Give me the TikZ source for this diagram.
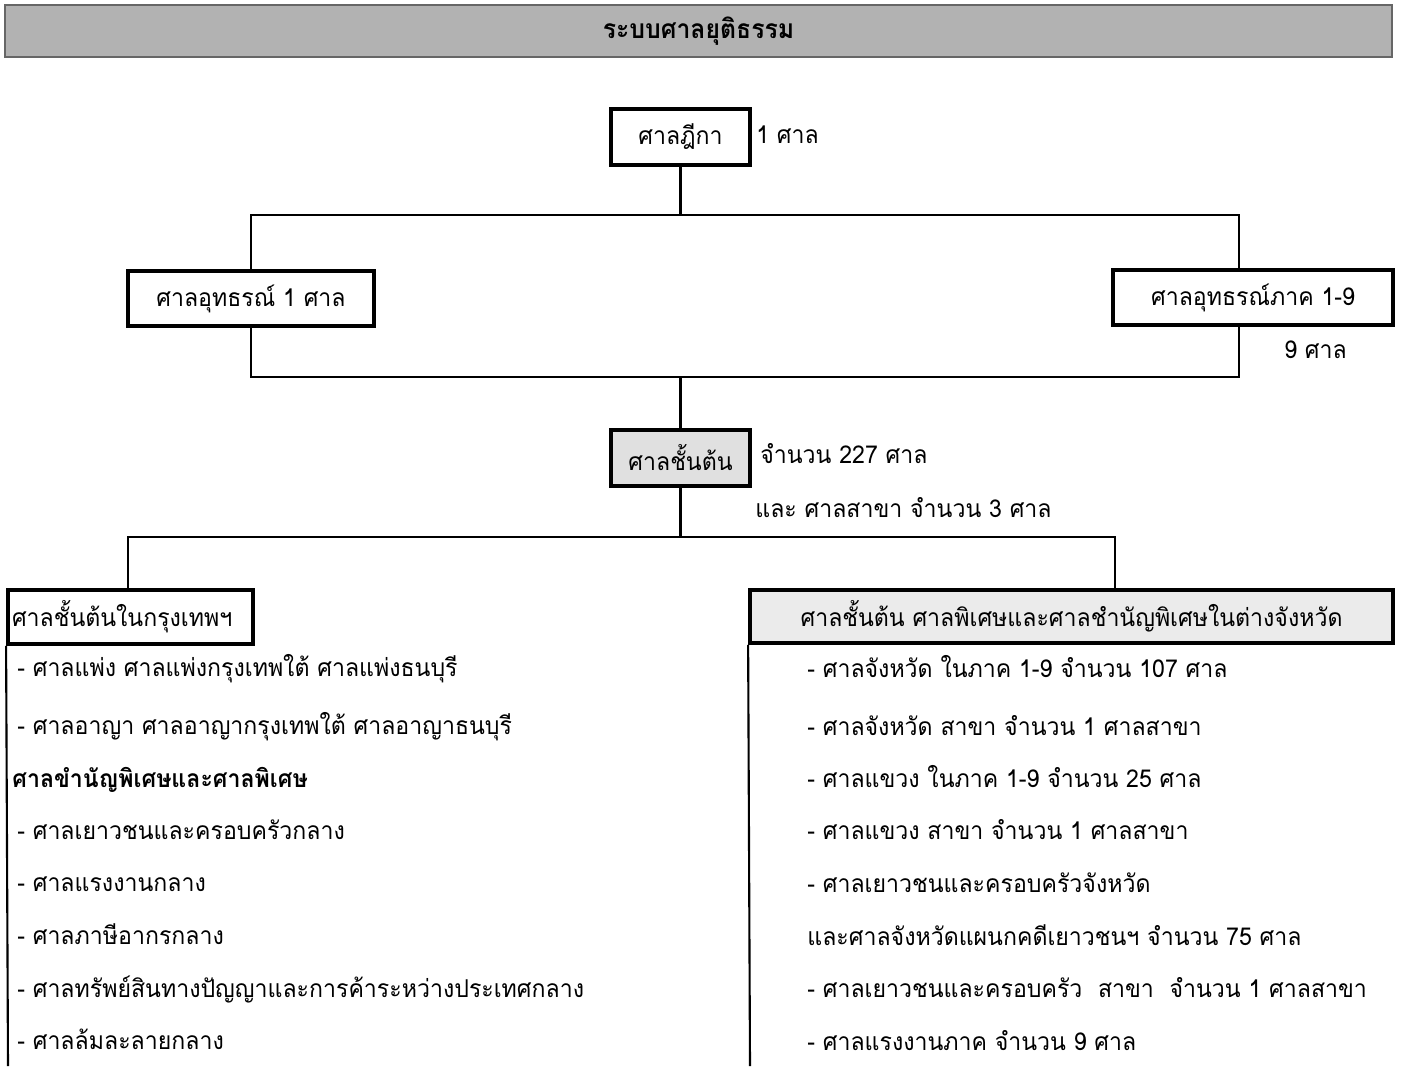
\documentclass[tikz,border=0pt]{standalone}
\usepackage{fontspec}
\setmainfont[Script=Thai, FakeStretch=0.94]{Loma}
\begin{document}
\begin{tikzpicture}[x=0.02cm,y=-0.02cm,
  txt/.style={font=\fontsize{14}{16}\selectfont},
  box/.style={draw, line width=2.2pt, fill=white, inner sep=0pt, txt},
  lbl/.style={anchor=base west, inner sep=0pt, txt},
  conn/.style={line width=1.2pt}]
\useasboundingbox (0,0) rectangle (1403,1066);
% title bar
\node[draw=black!60, line width=1pt, fill=black!30, minimum width=27.74cm, minimum height=1.04cm, inner sep=0pt,
  font=\fontsize{15}{17}\selectfont\bfseries] (title) at (698.5,31) {ระบบศาลยุติธรรม};
% boxes
\node[box, minimum width=2.78cm, minimum height=1.12cm] (sup) at (680.5,137) {ศาลฎีกา};
\node[box, minimum width=4.92cm, minimum height=1.1cm] (app1) at (251,298.5) {ศาลอุทธรณ์ 1 ศาล};
\node[box, minimum width=5.6cm, minimum height=1.1cm] (appR) at (1253,297.5) {ศาลอุทธรณ์ภาค 1-9};
\node[box, fill=black!12, minimum width=2.78cm, minimum height=1.12cm] (first) at (680.5,458) {ศาลชั้นต้น};
\node[box, minimum width=4.9cm, minimum height=1.08cm, text width=4.74cm, inner xsep=0.08cm, align=left] (bkk) at (130.5,617) {ศาลชั้นต้นในกรุงเทพฯ};
\node[box, fill=black!8, minimum width=12.86cm, minimum height=1.06cm] (prov) at (1071.5,616.5) {ศาลชั้นต้น ศาลพิเศษและศาลชำนัญพิเศษในต่างจังหวัด};
% junction coordinates
\coordinate (t1) at (251,215);
\coordinate (t2) at (1239,215);
\coordinate (b1) at (251,377);
\coordinate (b2) at (1239,377);
\coordinate (c1) at (128,537);
\coordinate (c2) at (1115,537);
\coordinate (lend) at (8,1066);
\coordinate (rend) at (750,1066);
% connectors
\draw[conn] (sup.south) -- (sup.south |- t1);
\draw[conn] (app1.north) -- (t1) -- (t2) -- (appR.north -| t2);
\draw[conn] (app1.south) -- (b1) -- (b2) -- (appR.south -| b2);
\draw[conn] (first.north) -- (first.north |- b1);
\draw[conn] (first.south) -- (first.south |- c1);
\draw[conn] (bkk.north -| c1) -- (c1) -- (c2) -- (prov.north -| c2);
\draw[conn] (bkk.south west) -- (lend);
\draw[conn] (prov.south west) -- (rend);
% side labels
\node[lbl] (l1) at (756,143) {1 ศาล};
\node[lbl] (l9) at (1284,358) {9 ศาล};
\node[lbl] (l227) at (760,463) {จำนวน 227 ศาล};
\node[lbl] (lbr) at (755,517) {และ ศาลสาขา จำนวน 3 ศาล};
% left list
\node[lbl] (a1) at (17,676) {- ศาลแพ่ง ศาลแพ่งกรุงเทพใต้ ศาลแพ่งธนบุรี};
\node[lbl] (a2) at (17,734) {- ศาลอาญา ศาลอาญากรุงเทพใต้ ศาลอาญาธนบุรี};
\node[lbl, font=\fontsize{14}{16}\selectfont\bfseries] (a3) at (12,787) {ศาลขำนัญพิเศษและศาลพิเศษ};
\node[lbl] (a4) at (17,839) {- ศาลเยาวชนและครอบครัวกลาง};
\node[lbl] (a5) at (17,891) {- ศาลแรงงานกลาง};
\node[lbl] (a6) at (17,944) {- ศาลภาษีอากรกลาง};
\node[lbl] (a7) at (17,997) {- ศาลทรัพย์สินทางปัญญาและการค้าระหว่างประเทศกลาง};
\node[lbl] (a8) at (17,1049) {- ศาลล้มละลายกลาง};
% right list
\node[lbl] (r1) at (807,677) {- ศาลจังหวัด ในภาค 1-9 จำนวน 107 ศาล};
\node[lbl] (r2) at (807,735) {- ศาลจังหวัด สาขา จำนวน 1 ศาลสาขา};
\node[lbl] (r3) at (807,787) {- ศาลแขวง ในภาค 1-9 จำนวน 25 ศาล};
\node[lbl] (r4) at (807,839) {- ศาลแขวง สาขา จำนวน 1 ศาลสาขา};
\node[lbl] (r5) at (807,892) {- ศาลเยาวชนและครอบครัวจังหวัด};
\node[lbl] (r6) at (807,945) {และศาลจังหวัดแผนกคดีเยาวชนฯ จำนวน 75 ศาล};
\node[lbl] (r7) at (807,997) {- ศาลเยาวชนและครอบครัว~~สาขา~~จำนวน 1 ศาลสาขา};
\node[lbl] (r8) at (807,1050) {- ศาลแรงงานภาค จำนวน 9 ศาล};
\end{tikzpicture}
\end{document}
